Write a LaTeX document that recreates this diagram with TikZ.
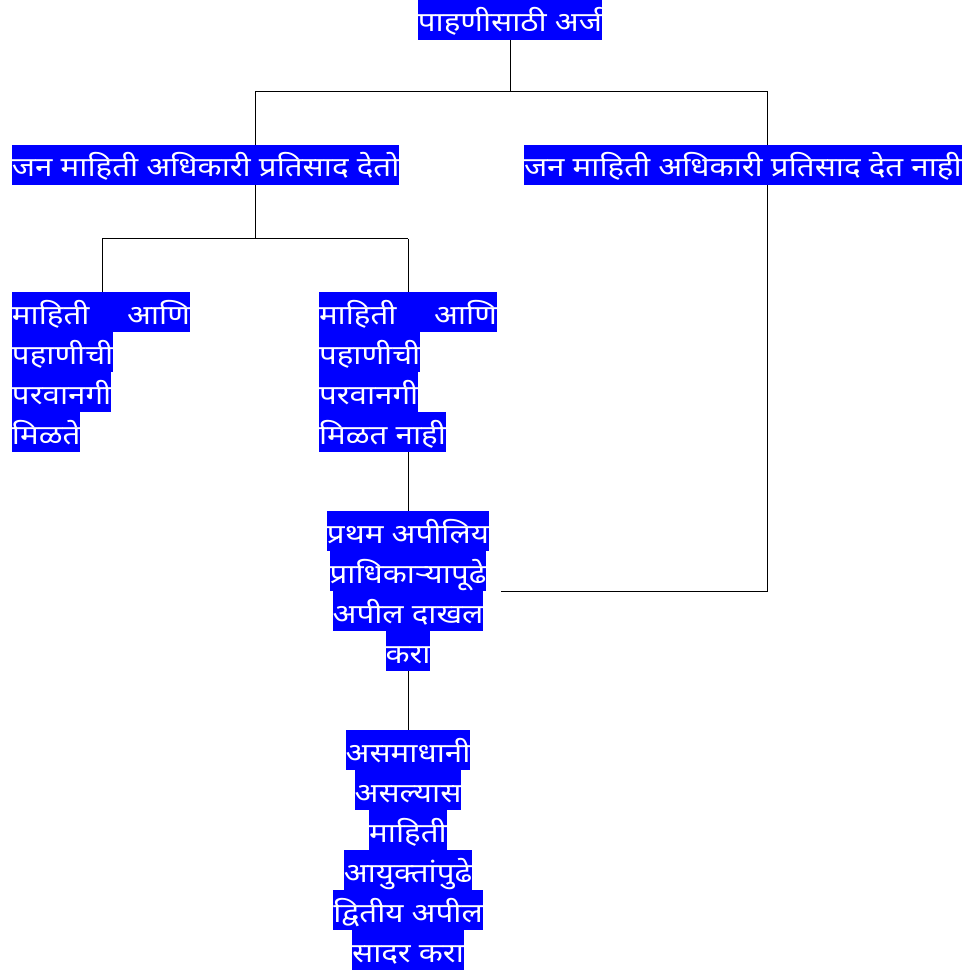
\documentclass[tikz,border=0pt]{standalone}
\usepackage{fontspec}
\newfontfamily\marathi[Script=Devanagari,FakeStretch=1.16]{Noto Sans}
\definecolor{hlblue}{HTML}{0000FF}
\setlength{\fboxsep}{0pt}
% one highlighted line of text
\newcommand{\hl}[1]{\colorbox{hlblue}{\rule[-8pt]{0pt}{40pt}#1}}

\begin{document}
\begin{tikzpicture}
        [
            x = 1pt, y = -1pt,
            box/.style = {inner sep=0pt, outer sep=0pt, text=white,
                font=\marathi\fontsize{27}{40}\selectfont},
            every path/.style = {line width=1pt},
        ]
        \useasboundingbox (0,0) rectangle (971,973);

        \node[box, anchor=north] (arj) at (510,0) {\hl{पाहणीसाठी अर्ज}};
        \node[box, anchor=north west] (deto) at (12,145)
            {\hl{जन माहिती अधिकारी प्रतिसाद देतो}};
        \node[box, anchor=north west] (detnahi) at (524,145)
            {\hl{जन माहिती अधिकारी प्रतिसाद देत नाही}};
        \node[box, anchor=north west, align=left] (milte) at (12,292)
            {\hl{\makebox[178pt]{माहिती\hfill आणि}}\\
             \hl{पहाणीची}\\ \hl{परवानगी}\\ \hl{मिळते}};
        \node[box, anchor=north west, align=left] (miltnahi) at (319,292)
            {\hl{\makebox[178pt]{माहिती\hfill आणि}}\\
             \hl{पहाणीची}\\ \hl{परवानगी}\\ \hl{मिळत नाही}};
        \node[box, anchor=north, align=center] (apil) at (408,511)
            {\hl{प्रथम अपीलिय}\\ \hl{प्राधिकाऱ्यापूढे}\\
             \hl{अपील दाखल}\\ \hl{करा}};
        \node[box, anchor=north, align=center] (dvitiya) at (408,730)
            {\hl{असमाधानी}\\ \hl{असल्यास}\\ \hl{माहिती}\\
             \hl{आयुक्तांपुढे}\\ \hl{द्वितीय अपील}\\ \hl{सादर करा}};

        % junctions
        \coordinate (j1) at (255,92);
        \coordinate (j2) at (767,92);
        \coordinate (k0) at (255,239);
        \coordinate (k1) at (102,239);
        \coordinate (k2) at (408,239);

        \draw (arj) |- (j1) -- (deto.north -| j1);
        \draw (arj) |- (j2) -- (detnahi.north -| j2);
        \draw (deto.south -| k0) -- (k0);
        \draw (k1) -- (k2);
        \draw (k1) -- (milte.north -| k1);
        \draw (k2) -- (miltnahi.north -| k2);
        \draw (miltnahi.south -| apil.north) -- (apil);
        \draw (detnahi.south -| j2) |- ([xshift=12pt]apil.east);
        \draw (apil) -- (dvitiya);
    \end{tikzpicture}
\end{document}
